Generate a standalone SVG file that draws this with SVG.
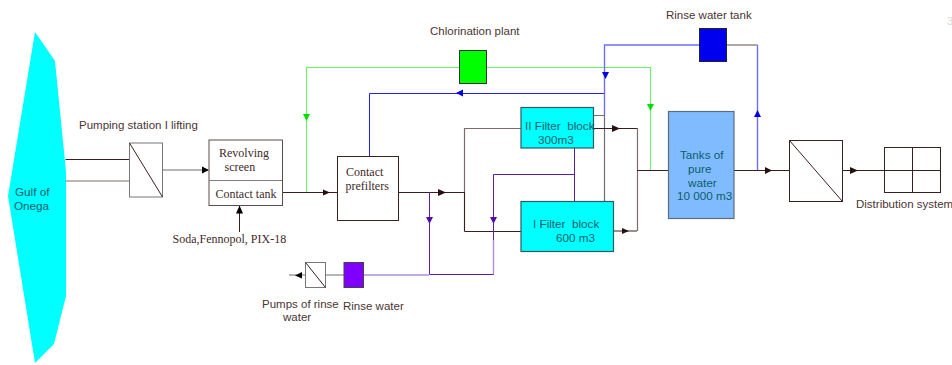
<svg xmlns="http://www.w3.org/2000/svg" width="952" height="365" viewBox="0 0 952 365">
<style>
.s{font-family:"Liberation Sans",Arial,sans-serif;font-size:11.5px;fill:#4a3434}
.t{font-family:"Liberation Serif","Times New Roman",serif;font-size:12px;fill:#3f2a2a}
.c{font-family:"Liberation Sans",Arial,sans-serif;font-size:11.7px;fill:#0b5f6a;white-space:pre}
.b{fill:#fff;stroke:#3a2020;stroke-width:1}
.g{fill:#fff;stroke:#777;stroke-width:1}
.n{fill:none;stroke:#3a1f1f;stroke-width:1}
.y{fill:none;stroke:#7d6a6a;stroke-width:1.2}
.h{fill:none;stroke:#6f6f6f;stroke-width:1.2}
.gr{fill:none;stroke:#66f266;stroke-width:1.1}
.bl{fill:none;stroke:#2222ee;stroke-width:1}
.bp{fill:none;stroke:#6f6fff;stroke-width:1.4}
.p{fill:none;stroke:#5a1cb0;stroke-width:1}
.pl{fill:none;stroke:#b090dd;stroke-width:1.4}
.ak{fill:#2a0f0f}.ag{fill:#00e000}.ab{fill:#0000e8}.ap{fill:#5010a8}.a0{fill:#000}
</style>
<g id="gulf"><polygon points="35,32 55,61 66,172 66,296 54,344 35,363 8,196" fill="#00ffff"/><text class="c" x="15" y="196">Gulf of</text><text class="c" x="14" y="210">Onega</text></g>
<g id="connectors">
<path class="n" d="M65.500 159.500H129"/><path class="y" d="M65.500 181H129"/>
<path class="h" d="M162 170H208"/><path class="a0" d="M202 166.500l7 3.500l-7 3.500z"/>
<path class="n" d="M239.500 232V206"/><path class="a0" d="M239.500 205.500l3.500 8h-7z"/>
<path class="n" d="M282 192.500H337"/><path class="ak" d="M323 189.500l7 3l-7 3z"/>
<path class="gr" d="M306.500 192V67.500H459M487 67.500H650.500V170"/><path class="ag" d="M303 114h7l-3.500 7z"/><path class="ag" d="M647 104h7l-3.500 7z"/>
<path class="bl" d="M369.500 156V93.500H605"/><path class="ab" d="M463 89.500v7l-7-3.500z"/>
<path class="n" d="M398 192.500H464"/><path class="ak" d="M438 189l8 3.500l-8 3.500z"/>
<path class="y" d="M464.500 128.500H521M464.500 128V231"/><path class="n" d="M464.500 192V231.500H521"/>
<path class="p" d="M574.500 148V201M574.500 174.500H493.500V240M429.500 192V274.500H493.500V240"/><path class="pl" d="M363 275H429M493.500 240V274"/>
<path class="ap" d="M426 217h7l-3.500 7z"/><path class="ap" d="M490 217h7l-3.500 7z"/>
<path class="h" d="M289 275H305M325 275H344"/><path class="a0" d="M302 272v6.500l-7-3z"/>
<path class="h" d="M604.500 201V115.500H593"/><path class="bp" d="M604.500 115V45H699"/><path class="ab" d="M602 72h7l-3.500 7z"/>
<path class="y" d="M726 45H757.500"/><path class="bp" d="M757.500 45V170"/><path class="ab" d="M757.500 110l3.500 7h-7z"/>
<path class="n" d="M590 128.500H637M613 231H637"/><path class="y" d="M637.500 128V231"/><path class="n" d="M637 170.500H668"/>
<path class="ak" d="M612 125l8 3.500l-8 3.500z"/><path class="ak" d="M622 228l7 3l-7 3z"/>
<path class="n" d="M734 170.500H789"/><path class="ak" d="M765 167l7 3.500l-7 3.500z"/>
<path class="n" d="M842 170.500H885"/><path class="ak" d="M850 167l8 3.500l-8 3.500z"/>
</g>
<g id="pump1"><rect class="g" x="129.500" y="143" width="33" height="54"/><path class="n" d="M129.500 143L162.500 197"/><text class="s" x="79" y="129">Pumping station I lifting</text></g>
<g id="revolving"><rect x="209" y="140" width="73.500" height="65.500" fill="#fff" stroke="#5e4a4a"/><path d="M209 180.500H282" stroke="#8a7a7a" fill="none"/><text class="t" x="219" y="157">Revolving</text><text class="t" x="224.500" y="171">screen</text><text class="t" x="215.500" y="198">Contact tank</text></g>
<g id="dose"><text class="t" x="172.500" y="243">Soda,Fennopol, PIX-18</text></g>
<g id="chlorination"><rect x="459.500" y="50.500" width="27" height="33" fill="#00ff00" stroke="#333"/><text class="s" x="430" y="35">Chlorination plant</text></g>
<g id="prefilters"><rect class="b" x="337.500" y="156.500" width="61" height="64"/><text class="t" x="346" y="176">Contact</text><text class="t" x="345.500" y="190">prefilters</text></g>
<g id="filter2"><rect x="521" y="107.500" width="72.500" height="40.500" fill="#00ffff" stroke="#2e5a60" stroke-width="1.200"/><text class="c" x="525" y="130">II Filter  block</text><text class="c" x="538" y="144">300m3</text></g>
<g id="filter1"><rect x="521" y="201.500" width="92.500" height="50" fill="#00ffff" stroke="#2e5a60" stroke-width="1.200"/><text class="c" x="533" y="228">I Filter  block</text><text class="c" x="556" y="242">600 m3</text></g>
<g id="rinsepump"><rect class="g" x="305.500" y="262.500" width="20" height="25"/><path class="n" d="M305.500 262.500L325.500 287.500"/><text class="s" x="262" y="308">Pumps of rinse</text><text class="s" x="283" y="321">water</text></g>
<g id="rinsewater"><rect x="344" y="262.500" width="19.500" height="25" fill="#7f00ff" stroke="#444"/><text class="s" x="343" y="310">Rinse water</text></g>
<g id="rinsetank"><rect x="699.500" y="28.500" width="27" height="33" fill="#0000ee" stroke="#222"/><text class="s" x="666" y="19">Rinse water tank</text></g>
<g id="tanks"><rect x="668.500" y="111.500" width="65.500" height="107" fill="#80bbff" stroke="#5d6d80" stroke-width="1.200"/><text class="c" x="680" y="159">Tanks of</text><text class="c" x="688" y="173">pure</text><text class="c" x="688" y="187">water</text><text class="c" x="677" y="200">10 000 m3</text></g>
<g id="pump2"><rect class="b" x="789.500" y="140.500" width="53" height="61"/><path class="n" d="M789.500 140.500L842.500 201.500" stroke="#444"/></g>
<g id="distribution"><rect class="b" x="884.500" y="147.500" width="56" height="45"/><path class="n" d="M912.500 147.500V192.500M884.500 170.500H940"/><text class="s" x="856" y="208">Distribution system</text></g>
<text x="947" y="25" font-family="Liberation Sans,sans-serif" font-size="11" fill="#d8d8d8">3</text>
</svg>
